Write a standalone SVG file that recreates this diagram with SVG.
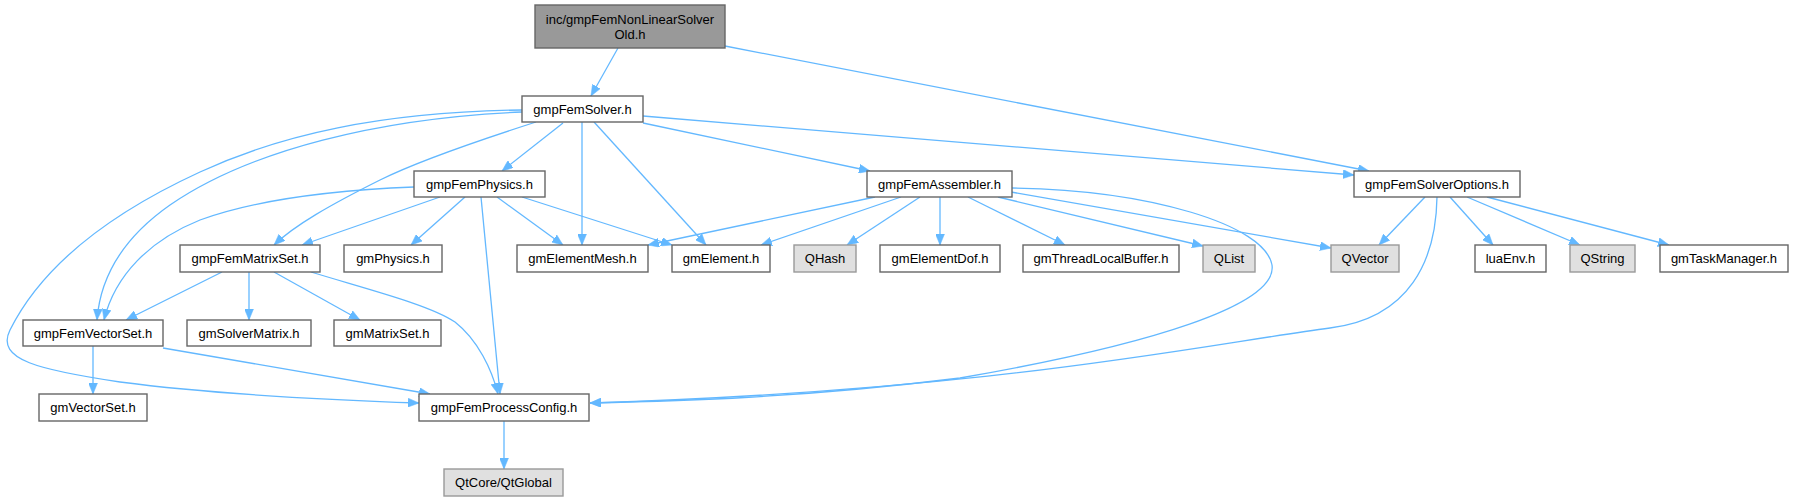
<svg xmlns="http://www.w3.org/2000/svg" width="1793" height="501" viewBox="0 0 1793 501">
<style>
.n rect{fill:#ffffff;stroke:#666666;stroke-width:1.4}
.n.g rect{fill:#e0e0e0;stroke:#999999}
.n.top rect{fill:#999999;stroke:#666666}
.n text{font-family:"Liberation Sans",Arial,sans-serif;font-size:13px;fill:#000000;text-anchor:middle}
.e path{fill:none;stroke:#63b8ff;stroke-width:1.3;marker-end:url(#ah)}
</style>
<defs>
<marker id="ah" markerUnits="userSpaceOnUse" markerWidth="11" markerHeight="9" refX="11" refY="4.5" orient="auto">
<path d="M0,0 L11,4.5 L0,9 z" fill="#63b8ff" stroke="#63b8ff" stroke-width="0.5"/>
</marker>
</defs>
<g id="edges" class="e">
<path d="M618,48 L591,96"/>
<path d="M725,46 L1369,171"/>
<path d="M643,116 L1354,175"/>
<path d="M643,123 L870,171"/>
<path d="M563,123 L502,171"/>
<path d="M582,122 L582,245"/>
<path d="M594,122 L706,245"/>
<path d="M536,122 C 480,140 420,160 380,180 C 330,205 295,225 274,245"/>
<path d="M522,112 C 380,118 250,150 170,205 C 120,240 100,280 97,320"/>
<path d="M522,110 C 380,112 280,135 200,172 C 100,218 40,270 10,330 C -5,360 40,370 120,382 C 220,395 330,400 419,403"/>
<path d="M440,197 L302,245"/>
<path d="M414,187 C 340,190 260,198 200,220 C 150,240 115,275 104,320"/>
<path d="M465,197 L411,245"/>
<path d="M481,197 L500,394"/>
<path d="M497,197 L563,245"/>
<path d="M522,197 L672,245"/>
<path d="M875,197 L648,245"/>
<path d="M901,197 L761,245"/>
<path d="M920,197 L847,245"/>
<path d="M940,197 L940,245"/>
<path d="M968,197 L1065,245"/>
<path d="M998,197 L1203,246"/>
<path d="M1011,192 L1331,248"/>
<path d="M1012,188 C 1150,190 1265,225 1272,265 C 1278,305 1150,345 960,378 C 800,398 680,401 590,403"/>
<path d="M1437,197 C 1436,260 1410,318 1330,328 C 1200,345 1000,390 590,403"/>
<path d="M1425,197 L1379,245"/>
<path d="M1450,197 L1493,245"/>
<path d="M1467,197 L1580,245"/>
<path d="M1487,197 L1669,245"/>
<path d="M222,272 L126,320"/>
<path d="M249,272 L249,320"/>
<path d="M274,272 L360,320"/>
<path d="M311,272 C 370,290 430,305 455,322 C 478,340 492,370 498,394"/>
<path d="M93,346 L93,394"/>
<path d="M163,348 L430,394"/>
<path d="M504,421 L504,469"/>
</g>
<g id="node_top" class="n top"><rect x="535" y="5" width="190" height="43"/><text x="630" y="23.5">inc/gmpFemNonLinearSolver</text><text x="630" y="38.5">Old.h</text></g>
<g id="node_solver" class="n"><rect x="522" y="96" width="121" height="26"/><text x="582.5" y="113.5">gmpFemSolver.h</text></g>
<g id="node_physics" class="n"><rect x="414" y="171" width="131" height="26"/><text x="479.5" y="188.5">gmpFemPhysics.h</text></g>
<g id="node_assembler" class="n"><rect x="867" y="171" width="145" height="26"/><text x="939.5" y="188.5">gmpFemAssembler.h</text></g>
<g id="node_options" class="n"><rect x="1354" y="171" width="166" height="26"/><text x="1437" y="188.5">gmpFemSolverOptions.h</text></g>
<g id="node_matrixset" class="n"><rect x="180" y="245" width="140" height="27"/><text x="250" y="263">gmpFemMatrixSet.h</text></g>
<g id="node_gmphysics" class="n"><rect x="344" y="245" width="98" height="27"/><text x="393" y="263">gmPhysics.h</text></g>
<g id="node_mesh" class="n"><rect x="517" y="245" width="131" height="27"/><text x="582.5" y="263">gmElementMesh.h</text></g>
<g id="node_element" class="n"><rect x="672" y="245" width="98" height="27"/><text x="721" y="263">gmElement.h</text></g>
<g id="node_qhash" class="n g"><rect x="794" y="245" width="62" height="27"/><text x="825" y="263">QHash</text></g>
<g id="node_dof" class="n"><rect x="880" y="245" width="120" height="27"/><text x="940" y="263">gmElementDof.h</text></g>
<g id="node_tlb" class="n"><rect x="1023" y="245" width="156" height="27"/><text x="1101" y="263">gmThreadLocalBuffer.h</text></g>
<g id="node_qlist" class="n g"><rect x="1203" y="245" width="52" height="27"/><text x="1229" y="263">QList</text></g>
<g id="node_qvector" class="n g"><rect x="1331" y="245" width="68" height="27"/><text x="1365" y="263">QVector</text></g>
<g id="node_luaenv" class="n"><rect x="1475" y="245" width="71" height="27"/><text x="1510.5" y="263">luaEnv.h</text></g>
<g id="node_qstring" class="n g"><rect x="1570" y="245" width="65" height="27"/><text x="1602.5" y="263">QString</text></g>
<g id="node_task" class="n"><rect x="1660" y="245" width="128" height="27"/><text x="1724" y="263">gmTaskManager.h</text></g>
<g id="node_vectorset" class="n"><rect x="23" y="320" width="140" height="26"/><text x="93" y="337.5">gmpFemVectorSet.h</text></g>
<g id="node_solvermatrix" class="n"><rect x="187" y="320" width="124" height="26"/><text x="249" y="337.5">gmSolverMatrix.h</text></g>
<g id="node_gmmatrixset" class="n"><rect x="334" y="320" width="107" height="26"/><text x="387.5" y="337.5">gmMatrixSet.h</text></g>
<g id="node_gmvectorset" class="n"><rect x="39" y="394" width="108" height="27"/><text x="93" y="412">gmVectorSet.h</text></g>
<g id="node_procconfig" class="n"><rect x="419" y="394" width="170" height="27"/><text x="504" y="412">gmpFemProcessConfig.h</text></g>
<g id="node_qtglobal" class="n g"><rect x="444" y="469" width="119" height="27"/><text x="503.5" y="487">QtCore/QtGlobal</text></g>
</svg>
